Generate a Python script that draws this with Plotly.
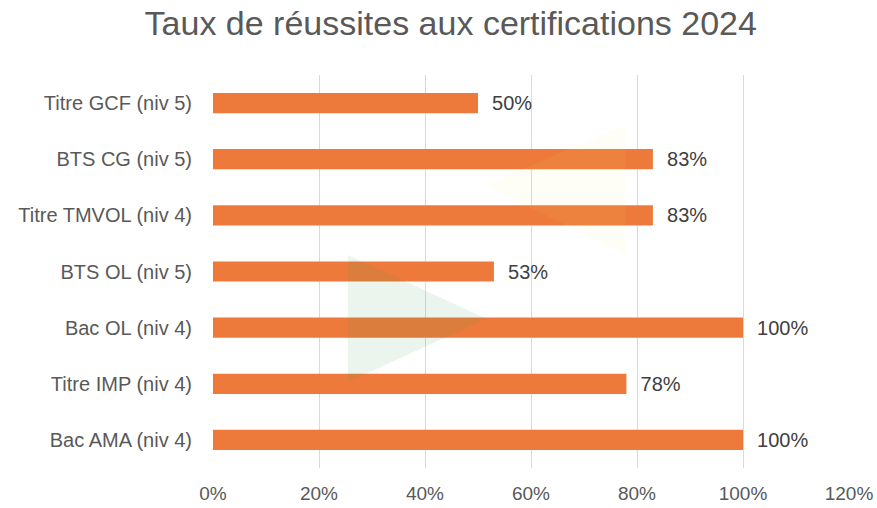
import plotly.graph_objects as go

# Certifications, top to bottom as in the chart
certifications = [
    "Titre GCF (niv 5)",
    "BTS CG (niv 5)",
    "Titre TMVOL (niv 4)",
    "BTS OL (niv 5)",
    "Bac OL (niv 4)",
    "Titre IMP (niv 4)",
    "Bac AMA (niv 4)",
]
taux_reussite = [0.50, 0.83, 0.83, 0.53, 1.00, 0.78, 1.00]

x_ticks = [0, 0.2, 0.4, 0.6, 0.8, 1.0, 1.2]
x_ticklabels = ["0%", "20%", "40%", "60%", "80%", "100%", "120%"]

orange = "#ED7A3A"
gray_text = "#595959"
font_family = "Liberation Sans, Arial, sans-serif"

fig = go.Figure()

fig.add_trace(
    go.Bar(
        x=taux_reussite,
        y=certifications,
        orientation="h",
        marker=dict(color=orange, line=dict(width=0)),
        width=0.36,
        text=taux_reussite,
        texttemplate="\u00a0\u00a0%{x:.0%}",
        textposition="outside",
        constraintext="none",
        textfont=dict(size=20, color="#404040", family=font_family),
        cliponaxis=False,
        hoverinfo="skip",
    )
)

# faint decorative triangles in the background of the original slide
fig.add_shape(
    type="path",
    xref="paper",
    yref="paper",
    path="M 0.428 0.720 L 0.648 0.873 L 0.648 0.542 Z",
    fillcolor="#F2E27A",
    opacity=0.07,
    line=dict(width=0),
    layer="above",
)
fig.add_shape(
    type="path",
    xref="paper",
    yref="paper",
    path="M 0.212 0.542 L 0.212 0.219 L 0.430 0.380 Z",
    fillcolor="#3C9A5A",
    opacity=0.1,
    line=dict(width=0),
    layer="above",
)

fig.update_layout(
    width=877,
    height=508,
    paper_bgcolor="white",
    plot_bgcolor="white",
    margin=dict(l=213, r=28, t=75, b=40, autoexpand=False),
    showlegend=False,
    title=dict(
        text="Taux de réussites aux certifications 2024",
        x=0.514,
        xanchor="center",
        y=0.954,
        yanchor="middle",
        font=dict(size=34, color=gray_text, family=font_family),
    ),
    xaxis=dict(
        range=[0, 1.2],
        tickvals=x_ticks,
        ticktext=x_ticklabels,
        showgrid=True,
        gridcolor="#D9D9D9",
        gridwidth=1,
        zeroline=False,
        showline=False,
        automargin=False,
        tickfont=dict(size=19, color=gray_text, family=font_family),
        ticklabelstandoff=12,
        fixedrange=True,
    ),
    yaxis=dict(
        autorange="reversed",
        showgrid=False,
        zeroline=False,
        showline=False,
        automargin=False,
        tickfont=dict(size=20, color=gray_text, family=font_family),
        ticklabelstandoff=20,
        fixedrange=True,
    ),
    bargap=0.64,
)

# drop the default 8px body margin so the figure fills the window
fig.write_html(
    "out.html",
    config={"displayModeBar": False},
    post_script="document.body.style.margin = '0';",
)
